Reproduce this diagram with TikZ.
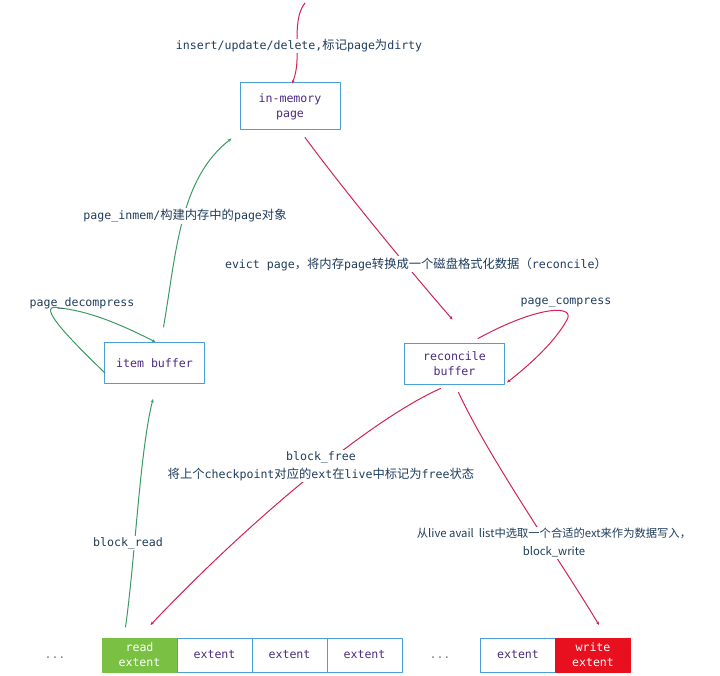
\documentclass[tikz,border=0pt]{standalone}
\usepackage{fontspec}
\setmonofont{DejaVu Sans Mono}
\newfontfamily\cjkfont{Noto Sans CJK SC}[Scale=1.06]
\newfontfamily\sanscjk{Noto Sans CJK SC}
\newcommand{\zh}[1]{{\cjkfont #1}}
\newcommand{\boxfont}{\ttfamily\fontsize{11.6}{15}\selectfont}
\newcommand{\lblfont}{\ttfamily\fontsize{11.6}{18}\selectfont}
\newcommand{\wrfont}{\sanscjk\fontsize{11.3}{18}\selectfont}
\usepackage{xcolor}
\usepackage{tikz}
\usetikzlibrary{arrows.meta,calc,positioning}
\definecolor{boxline}{HTML}{4A9FD5}
\definecolor{boxtxt}{HTML}{4B2A80}
\definecolor{lbltxt}{HTML}{1F3D5C}
\definecolor{flowred}{HTML}{D22352}
\definecolor{flowgreen}{HTML}{3C9A62}
\definecolor{readfill}{HTML}{7AC143}
\definecolor{writefill}{HTML}{E8101E}
\tikzset{
  pagebox/.style={draw=boxline, line width=1pt, minimum width=100pt, minimum height=41pt, align=center, text=boxtxt, font=\boxfont},
  extbox/.style={draw=boxline, line width=1pt, minimum width=75pt, minimum height=34pt, inner sep=0pt, outer sep=0pt, align=center, text=boxtxt, font=\boxfont},
  lbl/.style={text=lbltxt, font=\lblfont, fill=white, inner sep=1pt, align=center},
  dotsl/.style={text=gray, font=\boxfont},
  redflow/.style={draw=flowred, line width=1pt, -{Stealth[length=3.5pt,width=3pt]}},
  greenflow/.style={draw=flowgreen, line width=1pt, -{Stealth[length=3.5pt,width=3pt]}},
  every picture/.style={line cap=round, line join=round}
}

\begin{document}
\begin{tikzpicture}[x=1pt, y=-1pt]
  \useasboundingbox (0,0) rectangle (720,676);

  % page buffers
  \node[pagebox, minimum height=47pt] (mem) at (290,106.5) {in-memory\\page};
  \node[pagebox] (item) at (154.5,363) {item buffer};
  \node[pagebox] (recon) at (454.5,363.5) {reconcile\\buffer};

  % extents on disk
  \node[dotsl] (dotl) at (55,658) {...};
  \node[extbox, fill=readfill, draw=readfill, text=white] (rext) at (139.5,655) {read\\extent};
  \node[extbox, right=0pt of rext] (ext1) {extent};
  \node[extbox, right=0pt of ext1] (ext2) {extent};
  \node[extbox, right=0pt of ext2] (ext3) {extent};
  \node[dotsl] (dotr) at (440,658) {...};
  \node[extbox] (ext4) at (518,655) {extent};
  \node[extbox, fill=writefill, draw=writefill, text=white, right=0pt of ext4] (wext) {write\\extent};

  % flows
  \coordinate (src) at (305,3);
  \draw[redflow] (src) .. controls (290,22) and (303,58) .. ($(mem.north)+(2,1)$);
  \draw[greenflow] ($(item.north)+(9,-15)$) .. controls ($(item.north)+(22,-90)$) and ($(mem.south west)+(-60,48)$) .. ($(mem.south west)+(-8,8)$);
  \draw[redflow] ($(mem.south)+(15,7)$) .. controls (340,185) and (405,265) .. ($(recon.north)+(-2,-23)$);
  \draw[greenflow] ($(item.south west)+(1,-11)$) .. controls ($(item.west)+(-49,-38)$) and ($(item.west)+(-66,-60)$) .. ($(item.west)+(-44,-55)$)
    .. controls ($(item.west)+(-9,-51)$) and ($(item.north)+(-25,-13)$) .. ($(item.north)+(1,0)$);
  \draw[redflow] ($(recon.north east)+(-27,-4)$) .. controls ($(recon.north east)+(35,-38)$) and ($(recon.north east)+(73,-38)$) .. ($(recon.north east)+(61,-21)$)
    .. controls ($(recon.north east)+(48,2)$) and ($(recon.south east)+(20,-16)$) .. ($(recon.south east)+(2,-2)$);
  \draw[redflow] ($(recon.south)+(-14,4)$) .. controls (370,420) and (250,520) .. ($(rext.north)+(11,-13)$);
  \draw[redflow] ($(recon.south)+(4,8)$) .. controls (490,460) and (560,560) .. ($(wext.north)+(6,-13)$);
  \draw[greenflow] ($(rext.north)+(-14,-11)$) .. controls (135,560) and (140,450) .. ($(item.south)+(-1.5,15)$);

  % labels
  \node[lbl] (lins) at (299,46) {insert/update/delete,\zh{标记}page\zh{为}dirty};
  \node[lbl] (linm) at (185,216) {page\_inmem/\zh{构建内存中的}page\zh{对象}};
  \node[lbl] (levi) at (416,264) {evict page\zh{，将内存}page\zh{转换成一个磁盘格式化数据（}reconcile\zh{）}};
  \node[lbl, fill=none] (ldec) at (82,303) {page\_decompress};
  \node[lbl, fill=none] (lcom) at (566,303) {page\_compress};
  \node[lbl] (lfree) at (321,466) {block\_free\\\zh{将上个}checkpoint\zh{对应的}ext\zh{在}live\zh{中标记为}free\zh{状态}};
  \node[lbl, font=\wrfont] (lwrite) at (554,543) {从live avail\ \ list中选取一个合适的ext来作为数据写入，\\block\_write};
  \node[lbl] (lread) at (128,543) {block\_read};
\end{tikzpicture}
\end{document}
